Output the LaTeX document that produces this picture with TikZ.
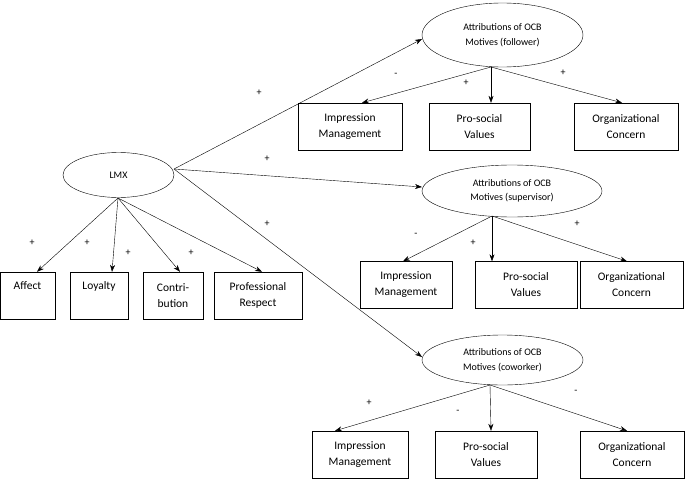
\documentclass[tikz,border=0pt]{standalone}
\usepackage{fontspec}
\setmainfont{Carlito}
\usetikzlibrary{shapes.geometric,arrows.meta}
\begin{document}
\begin{tikzpicture}[x=1pt,y=-1pt,
 ell/.style n args={2}{draw,ellipse,minimum width=#1,minimum height=#2,inner sep=0pt,align=center,font=\fontsize{10}{14.5}\selectfont},
 box/.style={draw,rectangle,minimum height=47pt,minimum width=#1,inner sep=0pt,align=center,font=\fontsize{11.5}{16}\selectfont},
 arr/.style={-{Stealth[length=7pt,width=5pt]},thin},
 lab/.style={font=\fontsize{10}{12}\selectfont}]
\useasboundingbox (0,0) rectangle (685,479);
\node[ell={111pt}{45pt}] (lmx) at (118.5,175) {LMX};
\node[ell={161pt}{64pt}] (fol) at (502.5,35) {Attributions of OCB\\Motives (follower)};
\node[ell={180pt}{52pt}] (sup) at (512,191) {Attributions of OCB\\Motives (supervisor)};
\node[ell={161pt}{50pt}] (cow) at (502.5,360) {Attributions of OCB\\Motives (coworker)};
\coordinate (lo) at (174,169);
\coordinate (lb) at (118,198);
\coordinate (fo) at (491,67);
\coordinate (so) at (492,216);
\coordinate (co) at (490,385);
\coordinate (fi) at (422,39);
\coordinate (si) at (422,187);
\coordinate (ci) at (422,357);
\node[box=104pt] (f1) at (350,126.5) {Impression\\Management};
\node[box=101pt] (f2) at (479.5,126.5) {Pro-social\\Values};
\node[box=104pt] (f3) at (626,126.5) {Organizational\\Concern};
\node[box=92pt] (s1) at (406,285) {Impression\\Management};
\node[box=102pt] (s2) at (526,285) {Pro-social\\Values};
\node[box=103pt] (s3) at (631.5,285) {Organizational\\Concern};
\node[box=96pt] (c1) at (360,454.5) {Impression\\Management};
\node[box=102pt] (c2) at (486,454.5) {Pro-social\\Values};
\node[box=104pt] (c3) at (632,454.5) {Organizational\\Concern};
\node[box=55pt] (a) at (27.5,295.5) {Affect\\\strut};
\node[box=58pt] (b) at (99,295.5) {Loyalty\\\strut};
\node[box=60pt] (c) at (173,295.5) {Contri-\\bution};
\node[box=88pt] (d) at (258,295.5) {Professional\\Respect};
\draw[arr] (lo) -- (fi);
\draw[arr] (lo) -- (si);
\draw[arr] (lo) -- (ci);
\draw[arr] (lb) -- (a.north -| 37,0);
\draw[arr] (lb) -- (b.north -| 112,0);
\draw[arr] (lb) -- (c.north -| 180,0);
\draw[arr] (lb) -- (d.north -| 262,0);
\draw[arr] (fo) -- (f1.north -| 362,0);
\draw[arr] (fo) -- (f2.north -| 491,0);
\draw[arr] (fo) -- (f3.north -| 622,0);
\draw[arr] (so) -- (s1.north -| 403,0);
\draw[arr] (so) -- (s2.north -| 492,0);
\draw[arr] (so) -- (s3.north -| 627,0);
\draw[arr] (co) -- (c1.north -| 335,0);
\draw[arr] (co) -- (c2.north -| 491,0);
\draw[arr] (co) -- (c3.north -| 627,0);
\node[lab] (l1) at (259,93) {+};
\node[lab] (l2) at (267,159) {+};
\node[lab] (l3) at (267,224) {+};
\node[lab] (l4) at (32,243) {+};
\node[lab] (l5) at (87,243) {+};
\node[lab] (l6) at (128,253) {+};
\node[lab] (l7) at (191,253) {+};
\node[lab] (l8) at (396,75) {-};
\node[lab] (l9) at (466,83) {+};
\node[lab] (l10) at (563,73) {+};
\node[lab] (l11) at (416,235) {-};
\node[lab] (l12) at (473,243) {+};
\node[lab] (l13) at (577,224) {+};
\node[lab] (l14) at (369,403) {+};
\node[lab] (l15) at (458,412) {-};
\node[lab] (l16) at (576,392) {-};
\end{tikzpicture}
\end{document}
